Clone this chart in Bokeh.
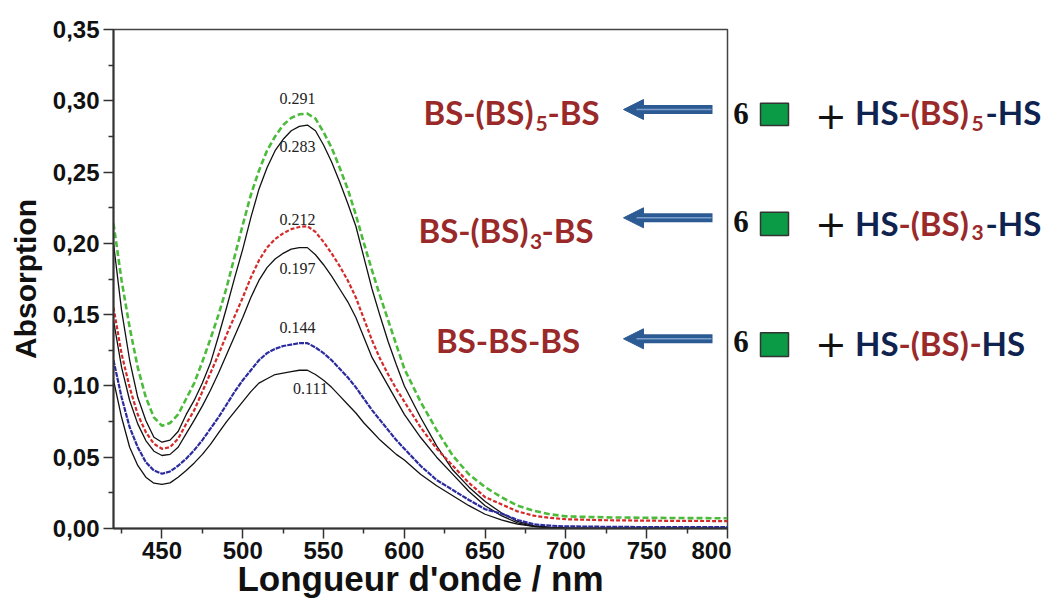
from bokeh.plotting import figure
from bokeh.layouts import row
from bokeh.models import (Range1d, FixedTicker, CustomJSTickFormatter, Label, Arrow,
                          NormalHead, BoxAnnotation)
from bokeh.embed import file_html
from bokeh.resources import INLINE

# ---------------- data ----------------
wavelength = [420, 425, 430, 435, 440, 445, 450, 455, 460, 465, 470, 475, 480, 485, 490,
              495, 500, 505, 510, 515, 520, 525, 530, 535, 540, 545, 550, 555, 560, 565,
              570, 575, 580, 585, 590, 595, 600, 610, 620, 630, 640, 650, 660, 670, 680,
              690, 700, 725, 750, 775, 800]

green_5 = [0.214, 0.174, 0.141, 0.113, 0.092, 0.078, 0.072, 0.074, 0.080, 0.091, 0.102,
           0.117, 0.133, 0.150, 0.169, 0.191, 0.213, 0.234, 0.251, 0.265, 0.275, 0.283,
           0.288, 0.2905, 0.291, 0.2875, 0.278, 0.267, 0.253, 0.238, 0.220, 0.200, 0.181,
           0.163, 0.146, 0.129, 0.112, 0.089, 0.069, 0.051, 0.038, 0.029, 0.022, 0.016,
           0.0125, 0.010, 0.0085, 0.0078, 0.0075, 0.0073, 0.0072]
black_5 = [0.200, 0.153, 0.118, 0.092, 0.0758, 0.064, 0.0605, 0.062, 0.068, 0.080, 0.090,
           0.102, 0.116, 0.135, 0.155, 0.176, 0.196, 0.218, 0.238, 0.253, 0.265, 0.273,
           0.279, 0.282, 0.283, 0.279, 0.269, 0.257, 0.243, 0.228, 0.212, 0.190, 0.168,
           0.149, 0.131, 0.115, 0.100, 0.078, 0.058, 0.041, 0.029, 0.019, 0.011, 0.005,
           0.002, 0.001, 0.0005, 0.0, 0.0, 0.0, 0.0]
red_3 = [0.155, 0.1225, 0.099, 0.080, 0.0676, 0.0594, 0.0559, 0.057, 0.063, 0.0735, 0.083,
         0.096, 0.109, 0.122, 0.136, 0.149, 0.162, 0.176, 0.188, 0.197, 0.203, 0.207,
         0.210, 0.2115, 0.212, 0.208, 0.201, 0.193, 0.184, 0.174, 0.162, 0.147, 0.132,
         0.119, 0.108, 0.098, 0.089, 0.071, 0.056, 0.044, 0.032, 0.022, 0.017, 0.012,
         0.009, 0.0075, 0.0065, 0.0058, 0.0055, 0.0053, 0.0052]
black_3 = [0.146, 0.113, 0.0898, 0.0734, 0.0617, 0.0542, 0.0512, 0.052, 0.057, 0.0665, 0.076,
           0.086, 0.097, 0.109, 0.122, 0.135, 0.148, 0.162, 0.174, 0.183, 0.189, 0.193,
           0.196, 0.197, 0.197, 0.192, 0.185, 0.177, 0.168, 0.159, 0.148, 0.134, 0.120,
           0.110, 0.100, 0.090, 0.080, 0.064, 0.050, 0.038, 0.026, 0.016, 0.009, 0.004,
           0.0015, 0.0005, 0.0, 0.0, 0.0, 0.0, 0.0]
blue_1 = [0.118, 0.092, 0.071, 0.057, 0.0465, 0.0407, 0.0384, 0.040, 0.044, 0.049, 0.055,
          0.062, 0.070, 0.078, 0.087, 0.096, 0.104, 0.111, 0.118, 0.123, 0.126, 0.128,
          0.129, 0.130, 0.130, 0.127, 0.123, 0.118, 0.112, 0.106, 0.099, 0.091, 0.083,
          0.076, 0.069, 0.062, 0.056, 0.044, 0.034, 0.027, 0.020, 0.0135, 0.0105, 0.006,
          0.003, 0.002, 0.0015, 0.0012, 0.001, 0.001, 0.001]
black_1 = [0.104, 0.078, 0.057, 0.0442, 0.036, 0.0318, 0.0309, 0.032, 0.036, 0.0407, 0.046,
           0.052, 0.059, 0.067, 0.075, 0.082, 0.089, 0.096, 0.102, 0.105, 0.108, 0.109,
           0.110, 0.111, 0.111, 0.108, 0.104, 0.099, 0.093, 0.087, 0.081, 0.074, 0.068,
           0.062, 0.057, 0.052, 0.048, 0.038, 0.030, 0.023, 0.016, 0.010, 0.006, 0.003,
           0.0015, 0.0005, 0.0, 0.0, 0.0, 0.0, 0.0]

peak_labels = ["0.291", "0.283", "0.212", "0.197", "0.144", "0.111"]

x_ticks = [450, 500, 550, 600, 650, 700, 750, 800]
x_minor = [425, 475, 525, 575, 625, 675, 725, 775]
y_ticks = [0.0, 0.05, 0.10, 0.15, 0.20, 0.25, 0.30, 0.35]
y_minor = [0.025, 0.075, 0.125, 0.175, 0.225, 0.275, 0.325]

left_rows = [("BS-(BS)", "5", "-BS"), ("BS-(BS)", "3", "-BS"), ("BS-BS-BS", "", "")]
right_rows = [("HS", "-(BS)", "5", "-HS"), ("HS", "-(BS)", "3", "-HS"), ("HS", "-(BS)", "", "-HS")]

# ---------------- layout constants (reference pixels) ----------------
PX0, PX1, PY0, PY1 = 113, 727, 528, 29
H = 601
LEFT_W = 731
RIGHT_W = 1046 - LEFT_W

p = figure(width=LEFT_W, height=H, output_backend="svg", toolbar_location=None,
           x_range=Range1d(420, 800), y_range=Range1d(0, 0.35),
           min_border_left=PX0, min_border_right=LEFT_W - PX1, min_border_top=PY1,
           min_border_bottom=H - PY0, background_fill_color="white",
           border_fill_color="white")
p.xgrid.visible = False
p.ygrid.visible = False
p.outline_line_color = "#444444"
p.outline_line_width = 1.5

for ax in (p.xaxis, p.yaxis):
    ax.axis_line_color = "#333333"
    ax.axis_line_width = 2
    ax.major_tick_line_color = "#333333"
    ax.minor_tick_line_color = "#333333"
    ax.major_tick_line_width = 1.5
    ax.minor_tick_line_width = 1.5
    ax.major_tick_in = 0
    ax.major_tick_out = 10
    ax.minor_tick_in = 0
    ax.minor_tick_out = 5
    ax.major_label_text_font = "Liberation Sans"
    ax.major_label_text_font_style = "bold"
    ax.major_label_text_font_size = "24px"
    ax.major_label_text_color = "#111111"
    ax.axis_label_text_font = "Liberation Sans"
    ax.axis_label_text_font_style = "bold"
    ax.axis_label_text_color = "#111111"

p.xaxis.axis_label_text_font_size = "35px"
p.yaxis.axis_label_text_font_size = "30px"
p.xaxis.ticker = FixedTicker(ticks=x_ticks, minor_ticks=x_minor)
p.yaxis.ticker = FixedTicker(ticks=y_ticks, minor_ticks=y_minor)
p.yaxis.formatter = CustomJSTickFormatter(code="return tick.toFixed(2).replace('.', ',');")
p.xaxis.axis_label = "Longueur d'onde / nm"
p.yaxis.axis_label = "Absorption"
p.xaxis.major_label_standoff = 3
p.yaxis.major_label_standoff = 4
p.xaxis.axis_label_standoff = -3
p.yaxis.axis_label_standoff = 8

# ---------------- curves ----------------
p.line(wavelength, black_1, line_color="#111111", line_width=1.3)
p.line(wavelength, black_3, line_color="#111111", line_width=1.3)
p.line(wavelength, black_5, line_color="#111111", line_width=1.3)
p.line(wavelength, blue_1, line_color="#2b2ba0", line_width=2.2, line_dash="5 1")
p.line(wavelength, red_3, line_color="#d42a2a", line_width=2.2, line_dash="4 2")
p.line(wavelength, green_5, line_color="#4cbb3c", line_width=2.6, line_dash="6 3")


def dx(px):
    return 420 + (px - PX0) * (800 - 420) / (PX1 - PX0)


def dy(py):
    return (PY0 - py) * 0.35 / (PY0 - PY1)


RED = "#9a2a2a"
NAVY = "#0f2350"
BIG = 33
SUB = 21
FONT = "Lato"
SERIF = "Liberation Serif"
SHIFT = 0.33  # baseline correction, in em


def lab(fig, x, py, text, color, align="left", size=BIG, font=FONT, style="bold",
        baseline="alphabetic"):
    if baseline == "alphabetic":
        py = py - SHIFT * size
    fig.add_layout(Label(x=x, y=dy(py), text=text, text_font=font, text_font_style=style,
                         text_font_size=f"{size}px", text_color=color, text_align=align,
                         text_baseline=baseline))


peak_pos = [(297, 103), (297, 151), (297, 224), (297, 273), (297, 332), (310, 393)]
for txt, (lx, ly) in zip(peak_labels, peak_pos):
    lab(p, dx(lx), ly, txt, "#222222", align="center", size=16, font=SERIF, style="normal")

# left side formulas (inside plot frame)
left_geo = [(533, 122, 535, 130, 547), (528, 240.7, 529.5, 248.3, 541),
            (507.5, 350.7, None, None, None)]
for (main, sub, tail), (mx, my, sx, sy, tx) in zip(left_rows, left_geo):
    if sub:
        lab(p, dx(mx), my, main, RED, align="right")
        lab(p, dx(sx), sy, sub, RED, size=SUB)
        lab(p, dx(tx), my, tail, RED)
    else:
        lab(p, dx(mx), my, main, RED, align="center")

# arrows
for ay in (109, 217.3, 338.3):
    p.add_layout(Arrow(x_start=dx(712), y_start=dy(ay), x_end=dx(623), y_end=dy(ay),
                       line_color="#2c5a92", line_width=9,
                       end=NormalHead(size=20, fill_color="#2c5a92", line_color="#2c5a92")))
    p.add_layout(Arrow(x_start=dx(711), y_start=dy(ay), x_end=dx(636), y_end=dy(ay),
                       line_color="#7d9fcb", line_width=1.5, end=None))

# ---------------- right panel: 6 [square] + HS-(BS)n-HS ----------------
q = figure(width=RIGHT_W, height=H, output_backend="svg", toolbar_location=None,
           x_range=Range1d(0, RIGHT_W), y_range=Range1d(0, 0.35),
           x_axis_location=None, y_axis_location=None,
           min_border_left=0, min_border_right=0, min_border_top=PY1,
           min_border_bottom=H - PY0, background_fill_color="white",
           border_fill_color="white")
q.outline_line_color = None
q.xgrid.visible = False
q.ygrid.visible = False


def rx(px):
    return px - LEFT_W


six_y = [123.3, 231.7, 351.7]
sq_y = [(102.7, 125), (211.7, 235), (332.3, 356)]
plus_y = [115, 223, 343]
hs_y = [(122.7, 130), (233.3, 239), (353.3, None)]
for (h1, mid, sub, h2), s6, (st, sb), py, (hy, sy) in zip(right_rows, six_y, sq_y, plus_y, hs_y):
    lab(q, rx(740.5), s6, "6", "#111111", align="center", size=31, font=SERIF,
        style="bold")
    q.add_layout(BoxAnnotation(left=rx(760), right=rx(788), top=dy(st), bottom=dy(sb),
                               fill_color="#0b9a46", fill_alpha=1.0,
                               line_color="#333333", line_width=1.5, line_alpha=1.0))
    lab(q, rx(830.5), py, "+", "#111111", align="center", size=38,
        font="DejaVu Sans", style="normal", baseline="middle")
    lab(q, rx(898), hy, h1, NAVY, align="right")
    lab(q, rx(898), hy, mid, RED)
    if sub:
        lab(q, rx(971), sy, sub, RED, size=SUB)
        lab(q, rx(985), hy, h2, NAVY)
    else:
        lab(q, rx(969), hy, "-", RED)
        lab(q, rx(981), hy, h2[1:], NAVY)

layout = row(p, q)
open("out.html", "w").write(file_html(layout, INLINE))
